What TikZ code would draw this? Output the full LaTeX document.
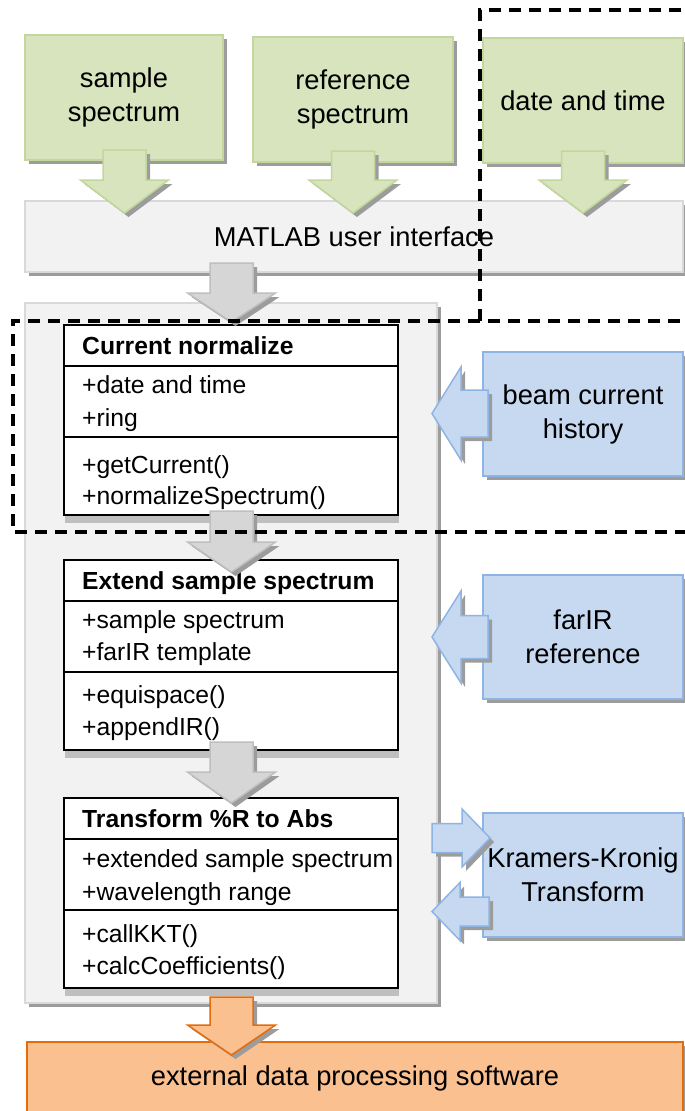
\documentclass[tikz,border=0pt]{standalone}
\usepackage{fontspec}
\setmainfont{Liberation Sans}
\usetikzlibrary{shadows}

\definecolor{grnfill}{HTML}{D7E4BD}
\definecolor{grnline}{HTML}{C3D69B}
\definecolor{uifill}{HTML}{F2F2F2}
\definecolor{uiline}{HTML}{D9D9D9}
\definecolor{gryfill}{HTML}{D6D6D6}
\definecolor{gryline}{HTML}{BFBFBF}
\definecolor{blufill}{HTML}{C6D9F1}
\definecolor{bluline}{HTML}{8EB4E3}
\definecolor{orgfill}{HTML}{FAC090}
\definecolor{orgline}{HTML}{E46C0A}
\definecolor{shd}{HTML}{9C9C9C}
\definecolor{clsshd}{HTML}{BFBFBF}

% vertical block arrow: style, x, shaft top, head base, tip, shaft half width, head half width
\newcommand\blkv[7]{%
  \path[#1] ({#2-#6},#3) -- ({#2+#6},#3) -- ({#2+#6},#4) -- ({#2+#7},#4)
    -- (#2,#5) -- ({#2-#7},#4) -- ({#2-#6},#4) -- cycle;}
% horizontal block arrow: style, y, shaft end, head base, tip, shaft half height, head half height
\newcommand\blkh[7]{%
  \path[#1] (#3,{#2-#6}) -- (#4,{#2-#6}) -- (#4,{#2-#7}) -- (#5,#2)
    -- (#4,{#2+#7}) -- (#4,{#2+#6}) -- (#3,{#2+#6}) -- cycle;}

\tikzset{
  shadowed/.style={drop shadow={shadow xshift=4pt, shadow yshift=-4pt, fill=shd, opacity=1}},
  big/.style={font=\fontsize{27.3}{34}\selectfont, align=center, text=black},
  boxbase/.style={anchor=north west, outer sep=0pt, inner sep=0pt, line width=1.5pt, shadowed},
  srcbox/.style={boxbase, big, fill=grnfill, draw=grnline},
  uibox/.style={boxbase, big, fill=uifill, draw=uiline},
  extbox/.style={boxbase, big, fill=blufill, draw=bluline},
  outbox/.style={boxbase, big, fill=orgfill, draw=orgline},
  frame/.style={anchor=north west, outer sep=0pt, fill=uifill, draw=uiline, line width=1.5pt,
    drop shadow={shadow xshift=4pt, shadow yshift=-4pt, fill=shd, opacity=1}},
  clsbox/.style={anchor=north west, outer sep=0pt, inner sep=0pt, fill=white, draw=black,
    line width=2.2pt, minimum width=334, minimum height=190,
    drop shadow={shadow xshift=1pt, shadow yshift=-8pt, fill=clsshd, opacity=1}},
  clshead/.style={anchor=base west, inner sep=0pt, font=\fontsize{24.7}{30}\selectfont\bfseries},
  clsline/.style={anchor=base west, inner sep=0pt, font=\fontsize{24.7}{30}\selectfont},
  grnarrow/.style={fill=grnfill, draw=grnline, line width=1.5pt, shadowed},
  gryarrow/.style={fill=gryfill, draw=gryline, line width=1.5pt, shadowed},
  bluarrow/.style={fill=blufill, draw=bluline, line width=1.5pt, shadowed},
  orgarrow/.style={fill=orgfill, draw=orgline, line width=1.5pt, shadowed},
  region/.style={line width=3.4pt, dash pattern=on 12pt off 8pt, black},
}

\begin{document}
\begin{tikzpicture}[x=1pt, y=-1pt]
\useasboundingbox (0,0) rectangle (685,1111);

% program frame
\node[frame, minimum width=412, minimum height=700] (prog) at (25,303) {};

% inputs
\node[srcbox, minimum width=198, minimum height=125] (ss) at (25,35) {sample\\spectrum};
\node[srcbox, minimum width=200, minimum height=125] (rs) at (253,37) {reference\\spectrum};
\node[srcbox, minimum width=200, minimum height=125] (dt) at (483,38) {date and time};

% user interface
\node[uibox, minimum width=658, minimum height=71] (ui) at (25,201) {MATLAB user interface};

% external resources
\node[extbox, minimum width=200, minimum height=124] (bch) at (483,352) {beam current\\history};
\node[extbox, minimum width=200, minimum height=124] (far) at (483,575) {farIR\\reference};
\node[extbox, minimum width=200, minimum height=124] (kkt) at (483,813) {Kramers-Kronig\\Transform};

% output
\node[outbox, minimum width=656, minimum height=72] (ext) at (27,1042) {external data processing software};

% class: Current normalize
\node[clsbox] (c1) at (64,325) {};
\draw[line width=2pt] ([yshift=-41pt]c1.north west) -- ([yshift=-41pt]c1.north east);
\draw[line width=1.3pt] ([yshift=-112pt]c1.north west) -- ([yshift=-112pt]c1.north east);
\node[clshead] (c1h) at ([xshift=18pt, yshift=-29pt]c1.north west) {Current normalize};
\node[clsline] (c1a) at ([xshift=18pt, yshift=-68pt]c1.north west) {+date and time};
\node[clsline] (c1b) at ([xshift=18pt, yshift=-101pt]c1.north west) {+ring};
\node[clsline] (c1c) at ([xshift=18pt, yshift=-148pt]c1.north west) {+getCurrent()};
\node[clsline] (c1d) at ([xshift=18pt, yshift=-179pt]c1.north west) {+normalizeSpectrum()};

% class: Extend sample spectrum
\node[clsbox] (c2) at (64,560) {};
\draw[line width=2pt] ([yshift=-41pt]c2.north west) -- ([yshift=-41pt]c2.north east);
\draw[line width=1.3pt] ([yshift=-112pt]c2.north west) -- ([yshift=-112pt]c2.north east);
\node[clshead] (c2h) at ([xshift=18pt, yshift=-29pt]c2.north west) {Extend sample spectrum};
\node[clsline] (c2a) at ([xshift=18pt, yshift=-68pt]c2.north west) {+sample spectrum};
\node[clsline] (c2b) at ([xshift=18pt, yshift=-100pt]c2.north west) {+farIR template};
\node[clsline] (c2c) at ([xshift=18pt, yshift=-143pt]c2.north west) {+equispace()};
\node[clsline] (c2d) at ([xshift=18pt, yshift=-175pt]c2.north west) {+appendIR()};

% class: Transform %R to Abs
\node[clsbox] (c3) at (64,798) {};
\draw[line width=2pt] ([yshift=-41pt]c3.north west) -- ([yshift=-41pt]c3.north east);
\draw[line width=1.3pt] ([yshift=-112pt]c3.north west) -- ([yshift=-112pt]c3.north east);
\node[clshead] (c3h) at ([xshift=18pt, yshift=-29pt]c3.north west) {Transform \%R to Abs};
\node[clsline] (c3a) at ([xshift=18pt, yshift=-69pt]c3.north west) {+extended sample spectrum};
\node[clsline] (c3b) at ([xshift=18pt, yshift=-102pt]c3.north west) {+wavelength range};
\node[clsline] (c3c) at ([xshift=18pt, yshift=-144pt]c3.north west) {+callKKT()};
\node[clsline] (c3d) at ([xshift=18pt, yshift=-176pt]c3.north west) {+calcCoefficients()};

% input arrows into the user interface
\blkv{grnarrow}{124.5}{150}{180}{213}{21.5}{44}
\blkv{grnarrow}{353}{151}{180}{213}{21.5}{44}
\blkv{grnarrow}{583}{151}{180}{213}{21.5}{44}

% processing chain
\blkv{gryarrow}{231.5}{263}{293}{322}{21.5}{44}
\blkv{gryarrow}{231.5}{511}{542}{572}{21.5}{44}
\blkv{gryarrow}{231.5}{742}{772}{803}{21.5}{44}
\blkv{orgarrow}{231.5}{997}{1025}{1055}{21.5}{44}

% external resources feeding the classes
\blkh{bluarrow}{413.5}{488}{461}{432}{23.5}{46.5}
\blkh{bluarrow}{637}{488}{461}{432}{21.5}{46}
\blkh{bluarrow}{838}{432}{462}{490}{14.5}{29}
\blkh{bluarrow}{911.5}{489}{460}{432}{14.5}{29}

% grouping regions
\draw[region] (480,321) -- (480,10) -- (700,10);
\draw[region] (700,321) -- (13,321) -- (13,532) -- (700,532);
\end{tikzpicture}
\end{document}
